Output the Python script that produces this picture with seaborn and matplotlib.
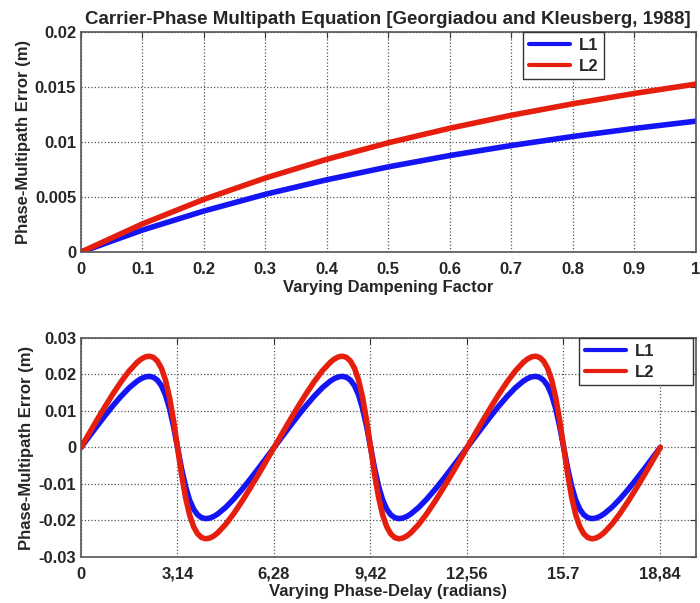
import numpy as np
import pandas as pd
import seaborn as sns
import matplotlib.pyplot as plt

# values
damping = [0, 0.1, 0.2, 0.3, 0.4, 0.5, 0.6, 0.7, 0.8, 0.9, 1.0]
top_l1 = [0, 0.00200, 0.00373, 0.00525, 0.00657, 0.00774, 0.00877, 0.00968, 0.01050, 0.01123, 0.01189]
top_l2 = [0, 0.00256, 0.00479, 0.00673, 0.00843, 0.00993, 0.01125, 0.01243, 0.01347, 0.01441, 0.01526]

# phase delay samples (degrees) within one cycle, denser around the steep drop
cycle_deg = np.array([0, 15, 30, 45, 60, 75, 90, 105, 112.5, 120, 127.5, 135, 142.5, 150, 157.5,
                      165, 172.5, 180, 187.5, 195, 202.5, 210, 217.5, 225, 232.5, 240, 247.5,
                      255, 270, 285, 300, 315, 330, 345])
phase = np.deg2rad(np.concatenate([cycle_deg, cycle_deg + 360, cycle_deg + 720, [1080]]))

bot_l1 = [
    0, 0.00297, 0.00590, 0.00877, 0.01152, 0.01408, 0.01637, 0.01821, 0.01889, 0.01934, 0.01949,
    0.01923, 0.01844, 0.01691, 0.01441, 0.01071, 0.00578,
    0, -0.00578, -0.01071, -0.01441, -0.01691, -0.01844, -0.01923, -0.01949, -0.01934, -0.01889,
    -0.01821, -0.01637, -0.01408, -0.01152, -0.00877, -0.00590, -0.00297,
    0, 0.00297, 0.00590, 0.00877, 0.01152, 0.01408, 0.01637, 0.01821, 0.01889, 0.01934, 0.01949,
    0.01923, 0.01844, 0.01691, 0.01441, 0.01071, 0.00578,
    0, -0.00578, -0.01071, -0.01441, -0.01691, -0.01844, -0.01923, -0.01949, -0.01934, -0.01889,
    -0.01821, -0.01637, -0.01408, -0.01152, -0.00877, -0.00590, -0.00297,
    0, 0.00297, 0.00590, 0.00877, 0.01152, 0.01408, 0.01637, 0.01821, 0.01889, 0.01934, 0.01949,
    0.01923, 0.01844, 0.01691, 0.01441, 0.01071, 0.00578,
    0, -0.00578, -0.01071, -0.01441, -0.01691, -0.01844, -0.01923, -0.01949, -0.01934, -0.01889,
    -0.01821, -0.01637, -0.01408, -0.01152, -0.00877, -0.00590, -0.00297,
    0,
]
bot_l2 = [
    0, 0.00381, 0.00758, 0.01125, 0.01478, 0.01807, 0.02100, 0.02337, 0.02424, 0.02482, 0.02501,
    0.02468, 0.02366, 0.02170, 0.01849, 0.01375, 0.00742,
    0, -0.00742, -0.01375, -0.01849, -0.02170, -0.02366, -0.02468, -0.02501, -0.02482, -0.02424,
    -0.02337, -0.02100, -0.01807, -0.01478, -0.01125, -0.00758, -0.00381,
    0, 0.00381, 0.00758, 0.01125, 0.01478, 0.01807, 0.02100, 0.02337, 0.02424, 0.02482, 0.02501,
    0.02468, 0.02366, 0.02170, 0.01849, 0.01375, 0.00742,
    0, -0.00742, -0.01375, -0.01849, -0.02170, -0.02366, -0.02468, -0.02501, -0.02482, -0.02424,
    -0.02337, -0.02100, -0.01807, -0.01478, -0.01125, -0.00758, -0.00381,
    0, 0.00381, 0.00758, 0.01125, 0.01478, 0.01807, 0.02100, 0.02337, 0.02424, 0.02482, 0.02501,
    0.02468, 0.02366, 0.02170, 0.01849, 0.01375, 0.00742,
    0, -0.00742, -0.01375, -0.01849, -0.02170, -0.02366, -0.02468, -0.02501, -0.02482, -0.02424,
    -0.02337, -0.02100, -0.01807, -0.01478, -0.01125, -0.00758, -0.00381,
    0,
]
phase_ticks = [0, 3.14, 6.28, 9.42, 12.56, 15.7, 18.84]
phase_labels = ['0', '3,14', '6,28', '9,42', '12,56', '15.7', '18,84']

top_df = pd.DataFrame({'x': damping * 2, 'y': top_l1 + top_l2,
                       'signal': ['L1'] * len(damping) + ['L2'] * len(damping)})
bot_df = pd.DataFrame({'x': list(phase) * 2, 'y': bot_l1 + bot_l2,
                       'signal': ['L1'] * len(phase) + ['L2'] * len(phase)})

sns.set_style('white')
plt.rcParams['font.family'] = ['Liberation Sans', 'DejaVu Sans']
palette = {'L1': '#1414f5', 'L2': '#e61e0e'}

fig = plt.figure(figsize=(7, 6.03), dpi=100)
ax1 = fig.add_axes([0.1157, 0.582, 0.878, 0.365])
ax2 = fig.add_axes([0.1157, 0.0763, 0.878, 0.3632])

sns.lineplot(data=top_df, x='x', y='y', hue='signal', palette=palette, lw=4, ax=ax1)
sns.lineplot(data=bot_df, x='x', y='y', hue='signal', palette=palette, lw=4, ax=ax2)

ax1.set_xlim(0, 1)
ax1.set_ylim(0, 0.02)
ax1.set_xticks(np.arange(0, 1.01, 0.1))
ax1.set_xticklabels(['0', '0.1', '0.2', '0.3', '0.4', '0.5', '0.6', '0.7', '0.8', '0.9', '1'])
ax1.set_yticks([0, 0.005, 0.01, 0.015, 0.02])
ax1.set_yticklabels(['0', '0.005', '0.01', '0.015', '0.02'])
ax1.set_xlabel('Varying Dampening Factor', fontsize=12, fontweight='bold', labelpad=2)
ax1.set_title('Carrier-Phase Multipath Equation [Georgiadou and Kleusberg, 1988]',
              fontsize=13.5, fontweight='bold', pad=6)

ax2.set_xlim(0, 20)
ax2.set_ylim(-0.03, 0.03)
ax2.set_xticks(phase_ticks)
ax2.set_xticklabels(phase_labels)
ax2.set_yticks([-0.03, -0.02, -0.01, 0, 0.01, 0.02, 0.03])
ax2.set_yticklabels(['-0.03', '-0.02', '-0.01', '0', '0.01', '0.02', '0.03'])
ax2.set_xlabel('Varying Phase-Delay (radians)', fontsize=12, fontweight='bold', labelpad=2)

for ax in (ax1, ax2):
    ax.set_ylabel('Phase-Multipath Error (m)', fontsize=12, fontweight='bold', labelpad=3)
    ax.grid(True, linestyle=':', color='#555555', lw=0.9)
    ax.tick_params(axis='x', pad=7)
    ax.tick_params(direction='in', length=4, top=True, right=True, labelsize=12,
                   color='#333333')
    for lab in ax.get_xticklabels() + ax.get_yticklabels():
        lab.set_fontweight('bold')
    for s in ax.spines.values():
        s.set_color('#555555')
        s.set_linewidth(1.2)

leg_kw = dict(frameon=True, fancybox=False, edgecolor='#333333', framealpha=1,
              prop={'weight': 'bold', 'size': 12}, handlelength=2.5,
              borderpad=0.35, labelspacing=0.35, handletextpad=0.5, borderaxespad=0)
h, l = ax1.get_legend_handles_labels()
leg1 = ax1.legend(h, l, loc='upper left', bbox_to_anchor=(0.719, 1.0), **leg_kw)
h, l = ax2.get_legend_handles_labels()
leg2 = ax2.legend(h, l, loc='upper left', bbox_to_anchor=(0.81, 0.5, 0.186, 0.5),
                  mode='expand', **leg_kw)
for leg in (leg1, leg2):
    for line in leg.get_lines():
        line.set_linewidth(3)

fig.savefig('out.png', dpi=100)
